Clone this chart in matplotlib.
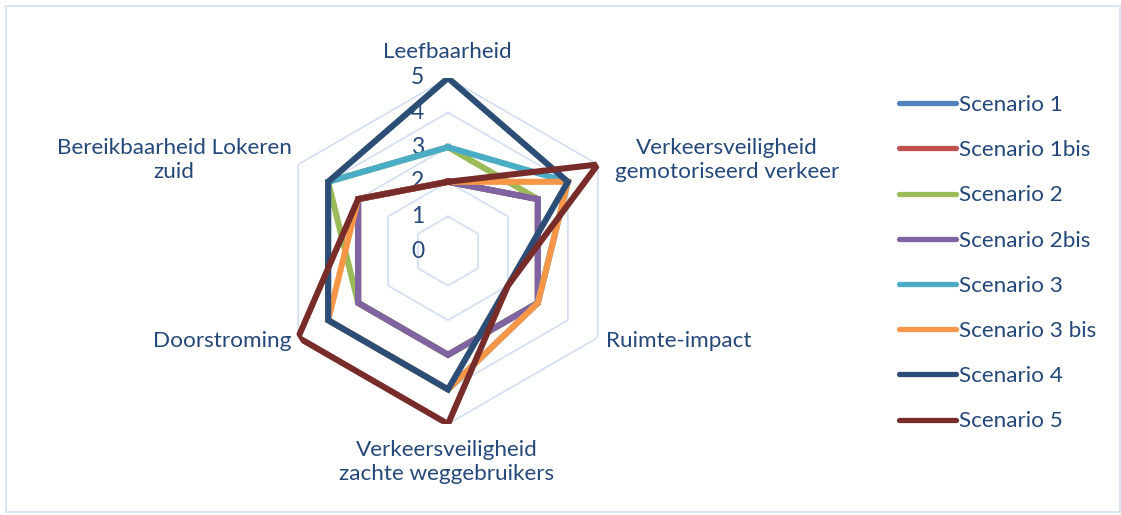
import matplotlib.pyplot as plt
import numpy as np
from matplotlib.lines import Line2D
from matplotlib.patches import Rectangle
from matplotlib import transforms

plt.rcParams['font.family'] = ['Lato', 'DejaVu Sans']

# data
categories = ['Leefbaarheid', 'Verkeersveiligheid\ngemotoriseerd verkeer', 'Ruimte-impact',
              'Verkeersveiligheid\nzachte weggebruikers', 'Doorstroming', 'Bereikbaarheid Lokeren\nzuid']
scenarios = ['Scenario 1', 'Scenario 1bis', 'Scenario 2', 'Scenario 2bis',
             'Scenario 3', 'Scenario 3 bis', 'Scenario 4', 'Scenario 5']
scen_1 = [2, 3, 3, 3, 3, 3]
scen_1bis = [2, 3, 3, 3, 3, 3]
scen_2 = [3, 3, 3, 3, 3, 4]
scen_2bis = [2, 3, 3, 3, 3, 3]
scen_3 = [3, 4, 3, 4, 4, 4]
scen_3bis = [2, 4, 3, 4, 4, 3]
scen_4 = [5, 4, 2, 4, 4, 4]
scen_5 = [2, 5, 2, 5, 5, 3]
values = [scen_1, scen_1bis, scen_2, scen_2bis, scen_3, scen_3bis, scen_4, scen_5]
colors = ['#4F81BD', '#C0504D', '#9BBB59', '#8064A2', '#4BACC6', '#F79646', '#2C4D75', '#772C2A']
rticks = [0, 1, 2, 3, 4, 5]

W, H = 1121, 515
txt_col = '#25487A'
fs = 16.2

def px(x, y):
    return x / W, 1 - y / H

fig = plt.figure(figsize=(W / 100, H / 100), dpi=100)
cx, cy, R = 448, 251, 173
ax = fig.add_axes([(cx - R) / W, (H - cy - R) / H, 2 * R / W, 2 * R / H], projection='polar')
ax.set_theta_zero_location('N')
ax.set_theta_direction(-1)
ax.set_ylim(0, 5)
ax.axis('off')

angles = np.linspace(0, 2 * np.pi, len(categories), endpoint=False)
closed = np.append(angles, angles[0])

# hexagon gridlines
for r in rticks[1:]:
    ax.plot(closed, [r] * len(closed), color='#D2DEF0', lw=1.2, zorder=1)

# radial labels
off = transforms.offset_copy(ax.transData, fig=fig, x=-24, y=0, units='dots')
for r in rticks:
    ax.text(0, r, str(r), transform=off, ha='right', va='center', fontsize=16.5, color=txt_col)

for name, vals, c in zip(scenarios, values, colors):
    ax.plot(closed, vals + vals[:1], color=c, lw=4.4, solid_joinstyle='miter', zorder=3, label=name)

# category labels
label_pos = [(447, 52, 'center'), (727, 160, 'center'), (606, 341, 'left'),
             (447, 462, 'center'), (291, 341, 'right'), (174, 160, 'center')]
for cat, (x, y, ha) in zip(categories, label_pos):
    fig.text(*px(x, y), cat, ha=ha, va='center', multialignment='center',
             fontsize=fs, color=txt_col, linespacing=1.25)

handles = [Line2D([], [], color=c, lw=3.8, solid_capstyle='round') for c in colors]
fig.legend(handles, scenarios, loc='upper left', bbox_to_anchor=px(899, 95), frameon=False,
           fontsize=fs, labelcolor=txt_col, handlelength=2.55, handletextpad=0.12,
           labelspacing=1.12, borderaxespad=0, borderpad=0)

fig.patches.append(Rectangle(px(6, 512), (W - 7) / W, (512 - 6) / H, transform=fig.transFigure,
                             fill=False, edgecolor='#D6E1F1', lw=1.2))

fig.savefig('out.png', dpi=100)
